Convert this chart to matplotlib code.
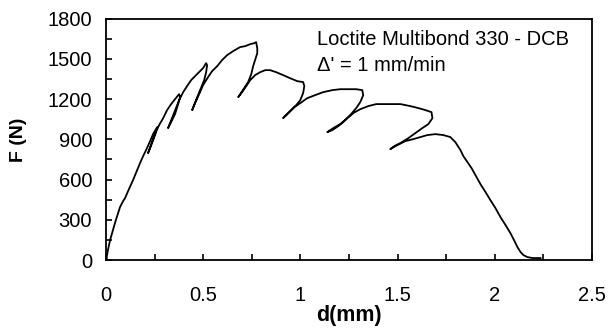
"""
DCB load-displacement curve, Loctite Multibond 330.
"""

import matplotlib
matplotlib.use('Agg')
import matplotlib.pyplot as plt
from matplotlib.ticker import MultipleLocator

# ---------------------------------------------------------------------------
# Data
# ---------------------------------------------------------------------------

disp_mm = [
    0.003, 0.005, 0.010, 0.021, 0.031, 0.046, 0.062, 0.072, 0.088, 0.098,
    0.118, 0.139, 0.160, 0.175, 0.191, 0.206, 0.227, 0.242, 0.263, 0.252,
    0.227, 0.216, 0.227, 0.252, 0.273, 0.294, 0.314, 0.335, 0.355, 0.376,
    0.381, 0.371, 0.355, 0.335, 0.319, 0.335, 0.355, 0.376, 0.397, 0.417,
    0.438, 0.458, 0.479, 0.499, 0.515, 0.520, 0.515, 0.505, 0.484, 0.463,
    0.443, 0.458, 0.479, 0.499, 0.525, 0.546, 0.572, 0.597, 0.623, 0.654,
    0.690, 0.716, 0.742, 0.762, 0.772, 0.778, 0.778, 0.767, 0.757, 0.747,
    0.731, 0.711, 0.690, 0.680, 0.700, 0.721, 0.742, 0.767, 0.793, 0.819,
    0.844, 0.875, 0.911, 0.947, 0.984, 1.014, 1.020, 1.014, 0.999, 0.978,
    0.958, 0.932, 0.911, 0.937, 0.968, 0.999, 1.035, 1.076, 1.117, 1.164,
    1.205, 1.246, 1.287, 1.318, 1.323, 1.308, 1.287, 1.256, 1.226, 1.195,
    1.164, 1.138, 1.169, 1.205, 1.241, 1.272, 1.308, 1.349, 1.390, 1.437,
    1.478, 1.514, 1.565, 1.607, 1.643, 1.674, 1.679, 1.658, 1.627, 1.591,
    1.555, 1.514, 1.483, 1.462, 1.498, 1.540, 1.581, 1.617, 1.653, 1.694,
    1.735, 1.771, 1.797, 1.823, 1.838, 1.859, 1.880, 1.900, 1.926, 1.952,
    1.977, 2.003, 2.029, 2.055, 2.080, 2.101, 2.116, 2.132, 2.147, 2.168,
    2.194, 2.225, 2.235,
]

force_N = [
    0, 37, 75, 149, 201, 276, 350, 395, 440, 462,
    529, 596, 671, 723, 775, 820, 887, 939, 991, 932,
    835, 797, 842, 939, 1006, 1058, 1118, 1163, 1200, 1237,
    1215, 1163, 1088, 1029, 984, 1043, 1118, 1192, 1252, 1297,
    1342, 1371, 1401, 1431, 1468, 1453, 1401, 1342, 1267, 1192,
    1118, 1170, 1237, 1304, 1364, 1409, 1446, 1491, 1528, 1558,
    1588, 1595, 1610, 1617, 1625, 1580, 1543, 1491, 1446, 1386,
    1327, 1282, 1237, 1215, 1252, 1297, 1342, 1379, 1401, 1416,
    1416, 1401, 1379, 1356, 1334, 1327, 1297, 1245, 1192, 1155,
    1125, 1088, 1058, 1096, 1140, 1170, 1207, 1230, 1252, 1267,
    1274, 1274, 1274, 1267, 1230, 1178, 1133, 1081, 1036, 999,
    969, 954, 984, 1014, 1058, 1096, 1125, 1148, 1163, 1163,
    1163, 1163, 1148, 1133, 1118, 1103, 1058, 1014, 984, 947,
    909, 872, 850, 827, 857, 887, 902, 917, 932, 939,
    932, 917, 879, 820, 775, 730, 686, 634, 566, 507,
    447, 388, 320, 261, 201, 142, 97, 60, 37, 22,
    15, 15, 15,
]

X_TICKS = [0, 0.5, 1, 1.5, 2, 2.5]
X_TICK_LABELS = ['0', '0.5', '1', '1.5', '2', '2.5']
Y_TICKS = [0, 300, 600, 900, 1200, 1500, 1800]

TITLE_LINES = ['Loctite Multibond 330 - DCB', "Δ' = 1 mm/min"]

# ---------------------------------------------------------------------------
# Plot
# ---------------------------------------------------------------------------

plt.rcParams['font.family'] = ['Liberation Sans', 'DejaVu Sans']

fig = plt.figure(figsize=(6.11, 3.33), dpi=100)
ax = fig.add_axes([0.1735, 0.219, 0.7955, 0.725])

ax.plot(disp_mm, force_N, color='black', linewidth=1.3)

ax.set_xlim(0, 2.5)
ax.set_ylim(0, 1800)
ax.set_xticks(X_TICKS)
ax.set_xticklabels(X_TICK_LABELS)
ax.set_yticks(Y_TICKS)
ax.xaxis.set_minor_locator(MultipleLocator(0.25))
ax.yaxis.set_minor_locator(MultipleLocator(150))

ax.tick_params(which='both', direction='in', length=4.5, width=1.2,
               top=False, right=False, labelsize=14.5)
ax.tick_params(axis='x', which='major', pad=19)
ax.tick_params(axis='y', which='major', pad=10)
for s in ax.spines.values():
    s.set_linewidth(1.3)

ax.set_xlabel('d(mm)', fontsize=15.5, fontweight='bold', labelpad=0)
ax.set_ylabel('F (N)', fontsize=14, fontweight='bold', labelpad=15)

ax.text(0.434, 0.912, TITLE_LINES[0], transform=ax.transAxes,
        fontsize=14.5, va='center', ha='left')
ax.text(0.434, 0.808, TITLE_LINES[1], transform=ax.transAxes,
        fontsize=14.5, va='center', ha='left')

fig.savefig('out.png', dpi=100)
plt.close(fig)
